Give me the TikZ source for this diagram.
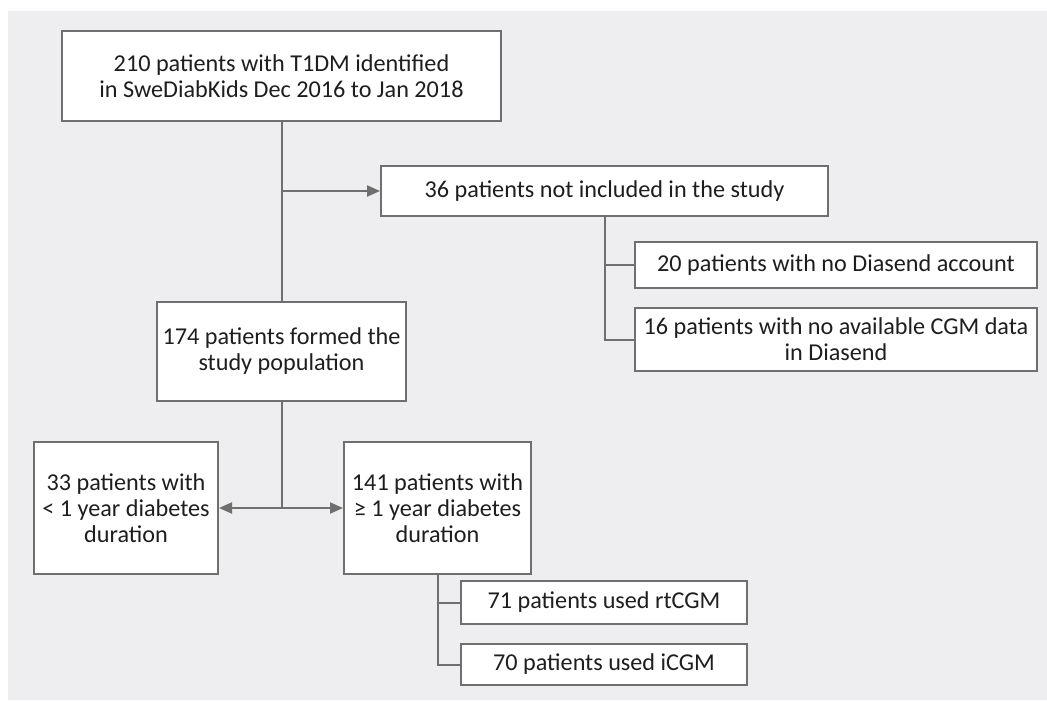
\documentclass[tikz,border=0pt]{standalone}
\usepackage{fontspec}
\setmainfont{Carlito}
\usetikzlibrary{arrows.meta}
\definecolor{bggray}{HTML}{EEEDEF}
\definecolor{linegray}{HTML}{6F6F6F}
\definecolor{txtgray}{HTML}{1E1E1E}
\begin{document}
\begin{tikzpicture}[x=0.5pt,y=-0.5pt,
  box/.style={draw=linegray,line width=1pt,fill=white,align=center,inner sep=0pt,
    text=txtgray,font=\fontsize{12.1}{13}\selectfont},
  link/.style={draw=linegray,line width=1pt},
  arr/.style={link,-{Triangle[length=6.5pt,width=5.5pt]}}]
\useasboundingbox (0,0) rectangle (1047,700);
\fill[bggray] (8,11) rectangle (1047,700);
\node[box,minimum width=219.5pt,minimum height=45pt] (t1dm) at (281.5,76) {210 patients with T1DM identified\\in SweDiabKids Dec 2016 to Jan 2018};
\node[box,minimum width=223.5pt,minimum height=25pt] (excl) at (604.5,191) {36 patients not included in the study};
\node[box,minimum width=201pt,minimum height=23pt] (noacc) at (836,265) {20 patients with no Diasend account};
\node[box,minimum width=201pt,minimum height=31.5pt] (nocgm) at (836,339.5) {16 patients with no available CGM data\\in Diasend};
\node[box,minimum width=124.5pt,minimum height=49.5pt] (pop) at (281.5,351.5) {174 patients formed the\\study population};
\node[box,minimum width=92pt,minimum height=66pt] (short) at (126,508) {33 patients with\\< 1 year diabetes\\duration};
\node[box,minimum width=93.5pt,minimum height=66pt] (long) at (437.5,508) {141 patients with\\≥ 1 year diabetes\\duration};
\node[box,minimum width=143pt,minimum height=21.5pt] (rt) at (604,602.5) {71 patients used rtCGM};
\node[box,minimum width=143pt,minimum height=20.5pt] (icgm) at (604,664.5) {70 patients used iCGM};
\coordinate (split) at (t1dm.south |- excl.west);
\coordinate (exclend) at (excl.south |- nocgm.west);
\coordinate (fork) at (pop.south |- long.west);
\coordinate (longend) at (long.south |- icgm.west);
\draw[link] (t1dm.south) -- (pop.north);
\draw[arr] (split) -- (excl.west);
\draw[link] (excl.south) -- (exclend) -- (nocgm.west);
\draw[link] (excl.south |- noacc.west) -- (noacc.west);
\draw[link] (pop.south) -- (fork);
\draw[arr] (fork) -- (short.east);
\draw[arr] (fork) -- (long.west);
\draw[link] (long.south) -- (longend) -- (icgm.west);
\draw[link] (long.south |- rt.west) -- (rt.west);
\end{tikzpicture}
\end{document}
